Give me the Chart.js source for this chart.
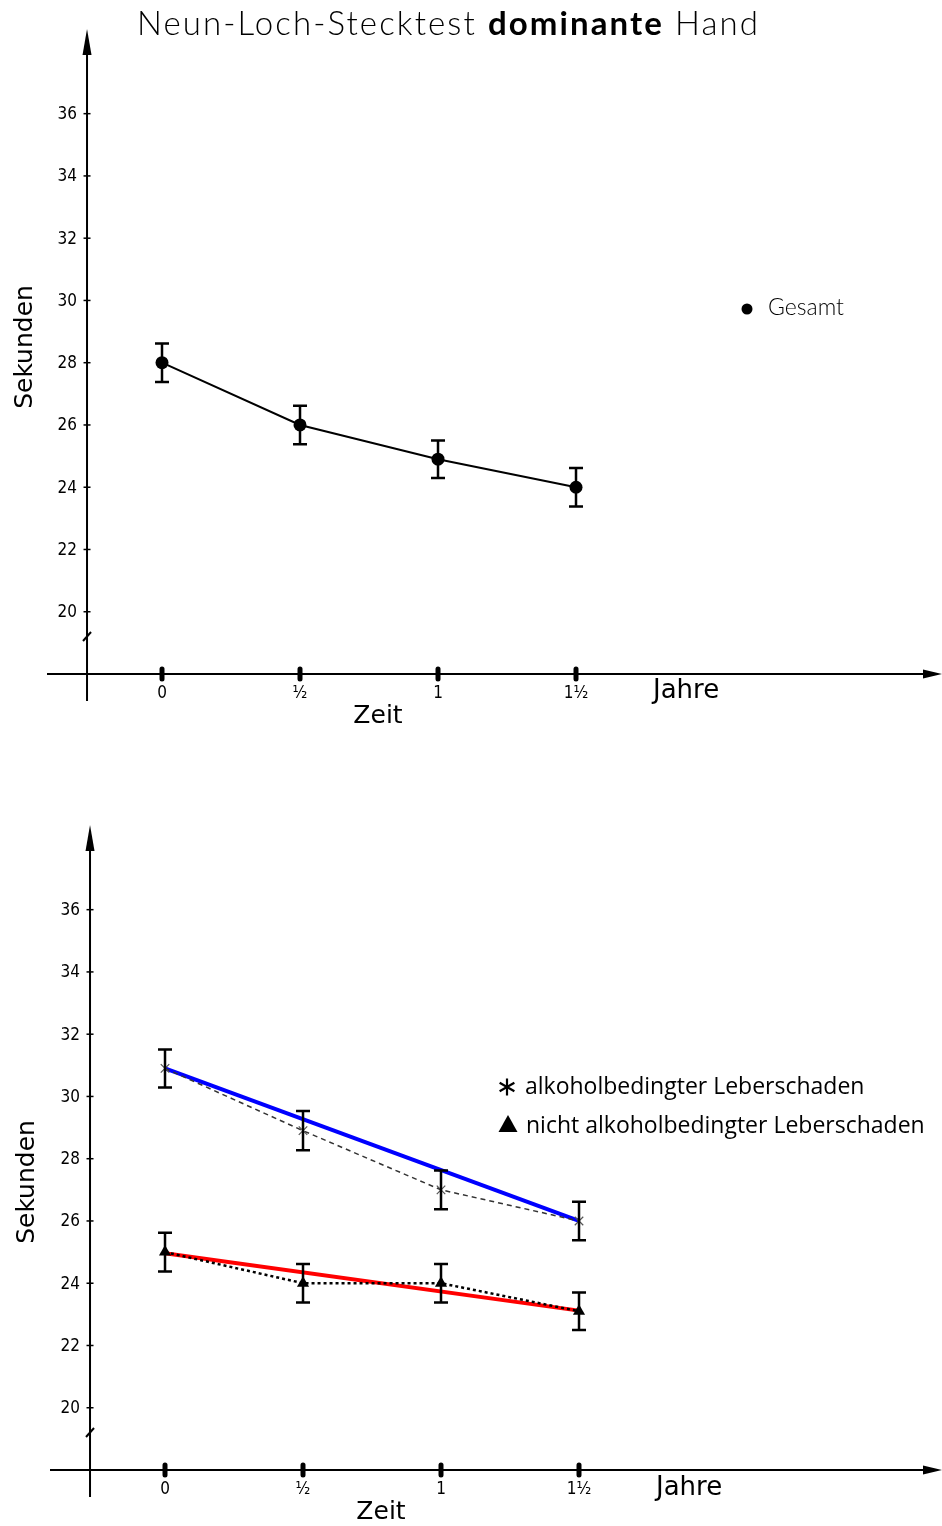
<!DOCTYPE html>
<html>
<head>
<meta charset="utf-8">
<script src="https://cdn.jsdelivr.net/npm/chart.js@4/dist/chart.umd.min.js"></script>
<style>
  html, body { margin:0; padding:0; background:#fff; }
  #wrap { position:relative; width:942px; height:1526px; overflow:hidden; background:#fff; }
  #title { position:absolute; left:137px; top:2px; font-family:'Lato','Noto Sans',sans-serif; font-weight:300; font-size:33px; color:#000; white-space:nowrap; letter-spacing:2.1px; }
  #title b { font-weight:700; }
  #c1box { position:absolute; left:0; top:0; width:942px; height:760px; }
  #c2box { position:absolute; left:3px; top:796px; width:939px; height:730px; }
</style>
</head>
<body>
<div id="wrap">
  <div id="c1box"><canvas id="c1" width="942" height="760"></canvas></div>
  <div id="c2box"><canvas id="c2" width="939" height="730"></canvas></div>
  <div id="title">Neun-Loch-Stecktest <b>dominante</b> Hand</div>
</div>
<script>
// ---- data ----
const timeValues = [0, 0.5, 1, 1.5];
const timeLabels = ['0', '\u00BD', '1', '1\u00BD'];
const yTickValues = [20, 22, 24, 26, 28, 30, 32, 34, 36];

const gesamtMean = [28.0, 26.0, 24.9, 24.0];
const gesamtErr  = [0.62, 0.62, 0.6, 0.62];

const alkMean = [30.9, 28.9, 27.0, 26.0];
const alkErr  = [0.61, 0.63, 0.62, 0.62];

const nonAlkMean = [25.0, 24.0, 24.0, 23.1];
const nonAlkErr  = [0.62, 0.62, 0.62, 0.6];

const trendTimes  = [0, 1.5];
const alkTrend    = [30.9, 26.0];
const nonAlkTrend = [24.96, 23.12];

const legendGesamt = 'Gesamt';
const legendAlk = 'alkoholbedingter Leberschaden';
const legendNonAlk = 'nicht alkoholbedingter Leberschaden';
const yTitle = 'Sekunden';
const xTitle = 'Zeit';
const xUnit = 'Jahre';

// ---- helpers ----
const pts = (xs, ys) => xs.map((x, i) => ({ x: x, y: ys[i] }));

const PX_PER_YEAR = 276;
const X_MIN = -0.4167;
const Y_MIN = 18;
const Y_MAX = 38.72;

const tickFont = "17px 'DejaVu Sans Condensed', 'DejaVu Sans', sans-serif";
const titleFont = "25px 'DejaVu Sans', sans-serif";
const unitFont = "26px 'DejaVu Sans', sans-serif";

const handAxes = {
  id: 'handAxes',
  beforeDatasetsDraw(chart, args, o) {
    const { ctx, chartArea: a, scales: { x, y } } = chart;
    const ax = x.getPixelForValue(o.yAxisAt);
    const ay = y.getPixelForValue(Y_MIN);
    ctx.save();
    ctx.strokeStyle = '#000';
    ctx.fillStyle = '#000';
    ctx.lineWidth = 2;
    // y axis
    ctx.beginPath();
    ctx.moveTo(ax, ay + 27);
    ctx.lineTo(ax, a.top + 20);
    ctx.stroke();
    ctx.beginPath();
    ctx.moveTo(ax, a.top);
    ctx.lineTo(ax + 4.5, a.top + 26);
    ctx.lineTo(ax - 4.5, a.top + 26);
    ctx.closePath();
    ctx.fill();
    // x axis
    ctx.beginPath();
    ctx.moveTo(a.left, ay);
    ctx.lineTo(a.right - 15, ay);
    ctx.stroke();
    ctx.beginPath();
    ctx.moveTo(a.right, ay);
    ctx.lineTo(a.right - 19, ay - 4.5);
    ctx.lineTo(a.right - 19, ay + 4.5);
    ctx.closePath();
    ctx.fill();
    // y ticks
    ctx.font = tickFont;
    ctx.textAlign = 'right';
    ctx.textBaseline = 'middle';
    ctx.lineWidth = 1.5;
    yTickValues.forEach(v => {
      const py = y.getPixelForValue(v);
      ctx.beginPath();
      ctx.moveTo(ax - 3.5, py);
      ctx.lineTo(ax + 3.5, py);
      ctx.stroke();
      ctx.fillText(String(v), ax - 10, py + 1);
    });
    // break mark
    const pb = y.getPixelForValue(o.breakAt);
    ctx.lineWidth = 2;
    ctx.beginPath();
    ctx.moveTo(ax - 4, pb + 5);
    ctx.lineTo(ax + 4, pb - 4);
    ctx.stroke();
    // x ticks
    ctx.textAlign = 'center';
    timeValues.forEach((t, i) => {
      const px = x.getPixelForValue(t);
      ctx.lineWidth = 5;
      ctx.lineCap = 'round';
      ctx.beginPath();
      ctx.moveTo(px, ay - 5);
      ctx.lineTo(px, ay + 5);
      ctx.stroke();
      ctx.fillText(timeLabels[i], px, ay + 20);
    });
    ctx.lineCap = 'butt';
    // axis titles
    ctx.font = titleFont;
    ctx.textAlign = 'center';
    ctx.textBaseline = 'middle';
    ctx.fillText(xTitle, o.xTitlePos[0], o.xTitlePos[1]);
    ctx.font = unitFont;
    ctx.textAlign = 'left';
    ctx.fillText(xUnit, o.unitPos[0], o.unitPos[1]);
    ctx.font = titleFont;
    ctx.save();
    ctx.translate(o.yTitlePos[0], o.yTitlePos[1]);
    ctx.rotate(-Math.PI / 2);
    ctx.textAlign = 'center';
    ctx.fillText(yTitle, 0, 0);
    ctx.restore();
    ctx.restore();
  },
  afterDatasetsDraw(chart) {
    const { ctx, scales: { x, y } } = chart;
    ctx.save();
    ctx.strokeStyle = '#000';
    ctx.lineWidth = 2.5;
    chart.data.datasets.forEach(ds => {
      if (!ds.errors) return;
      ds.data.forEach((p, i) => {
        const px = x.getPixelForValue(p.x);
        const top = y.getPixelForValue(p.y + ds.errors[i]);
        const bot = y.getPixelForValue(p.y - ds.errors[i]);
        ctx.beginPath();
        ctx.moveTo(px, top); ctx.lineTo(px, bot);
        ctx.moveTo(px - 7, top); ctx.lineTo(px + 7, top);
        ctx.moveTo(px - 7, bot); ctx.lineTo(px + 7, bot);
        ctx.stroke();
      });
    });
    ctx.restore();
  },
  afterDraw(chart, args, o) {
    const { ctx } = chart;
    ctx.save();
    ctx.fillStyle = '#000';
    ctx.strokeStyle = '#000';
    ctx.textBaseline = 'middle';
    ctx.textAlign = 'left';
    (o.legend || []).forEach(item => {
      const [mx, my] = item.marker;
      if (item.symbol === 'dot') {
        ctx.beginPath(); ctx.arc(mx, my, 5.5, 0, Math.PI * 2); ctx.fill();
      } else if (item.symbol === 'star') {
        ctx.lineWidth = 2.2;
        for (let k = 0; k < 3; k++) {
          const ang = Math.PI / 2 + k * Math.PI / 3;
          ctx.beginPath();
          ctx.moveTo(mx + 8.5 * Math.cos(ang), my + 8.5 * Math.sin(ang));
          ctx.lineTo(mx - 8.5 * Math.cos(ang), my - 8.5 * Math.sin(ang));
          ctx.stroke();
        }
      } else if (item.symbol === 'triangle') {
        ctx.beginPath();
        ctx.moveTo(mx, my - 9);
        ctx.lineTo(mx + 9.5, my + 8);
        ctx.lineTo(mx - 9.5, my + 8);
        ctx.closePath(); ctx.fill();
      }
      ctx.font = item.font;
      ctx.fillText(item.text, item.textPos[0], item.textPos[1]);
    });
    ctx.restore();
  }
};

function makeOptions(canvasW, canvasH, axisOpts) {
  const left = 47, top = 29, bottom = 674;
  return {
    responsive: false,
    animation: false,
    devicePixelRatio: 1,
    layout: { autoPadding: false, padding: { left: left, right: 0, top: top, bottom: canvasH - bottom } },
    scales: {
      x: { type: 'linear', display: false, min: X_MIN, max: X_MIN + (canvasW - left) / PX_PER_YEAR },
      y: { type: 'linear', display: false, min: Y_MIN, max: Y_MAX }
    },
    plugins: {
      legend: { display: false },
      tooltip: { enabled: false },
      title: { display: false },
      handAxes: axisOpts
    },
    elements: { line: { tension: 0 } }
  };
}

new Chart(document.getElementById('c1'), {
  type: 'line',
  data: {
    datasets: [{
      label: legendGesamt,
      data: pts(timeValues, gesamtMean),
      errors: gesamtErr,
      borderColor: '#000',
      borderWidth: 2,
      pointStyle: 'circle',
      pointRadius: 6.5,
      pointBackgroundColor: '#000',
      pointBorderColor: '#000',
      pointBorderWidth: 0
    }]
  },
  options: makeOptions(942, 760, {
    yAxisAt: -0.2717,
    breakAt: 19.22,
    xTitlePos: [378, 716],
    unitPos: [653, 691],
    yTitlePos: [25, 347],
    legend: [
      { symbol: 'dot', marker: [747, 309], text: legendGesamt, textPos: [768, 308], font: "300 23px 'Lato', 'Noto Sans', sans-serif" }
    ]
  }),
  plugins: [handAxes]
});

new Chart(document.getElementById('c2'), {
  type: 'line',
  data: {
    datasets: [
      {
        label: legendNonAlk,
        data: pts(timeValues, nonAlkMean),
        errors: nonAlkErr,
        order: 0,
        borderColor: '#000',
        borderWidth: 2.5,
        borderDash: [3, 3],
        pointStyle: 'triangle',
        pointRadius: 7,
        pointBackgroundColor: '#000',
        pointBorderColor: '#000',
        pointBorderWidth: 0
      },
      {
        label: legendAlk,
        data: pts(timeValues, alkMean),
        errors: alkErr,
        order: 1,
        borderColor: '#333',
        borderWidth: 1.5,
        borderDash: [5, 4],
        pointStyle: 'crossRot',
        pointRadius: 6,
        pointBorderColor: '#555',
        pointBorderWidth: 1.2
      },
      {
        label: 'Trend alkoholbedingt',
        data: pts(trendTimes, alkTrend),
        order: 2,
        borderColor: '#0000ff',
        borderWidth: 4,
        pointRadius: 0
      },
      {
        label: 'Trend nicht alkoholbedingt',
        data: pts(trendTimes, nonAlkTrend),
        order: 2,
        borderColor: '#ff0000',
        borderWidth: 4,
        pointRadius: 0
      }
    ]
  },
  options: makeOptions(939, 730, {
    yAxisAt: -0.2717,
    breakAt: 19.22,
    xTitlePos: [378, 716],
    unitPos: [653, 692],
    yTitlePos: [24, 386],
    legend: [
      { symbol: 'star', marker: [504, 291], text: legendAlk, textPos: [522, 291], font: "23px 'Open Sans', 'Noto Sans', sans-serif" },
      { symbol: 'triangle', marker: [505, 328], text: legendNonAlk, textPos: [523, 330], font: "23px 'Open Sans', 'Noto Sans', sans-serif" }
    ]
  }),
  plugins: [handAxes]
});
</script>
</body>
</html>
